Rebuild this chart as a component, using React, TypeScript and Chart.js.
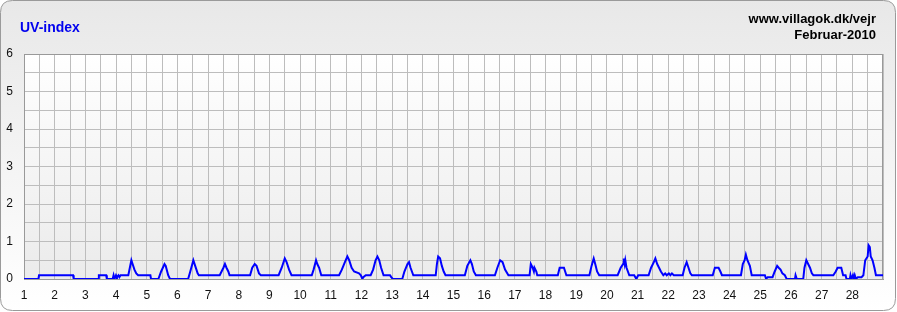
import React, { useEffect, useRef } from "react";
import { Chart, registerables } from "chart.js";

Chart.register(...registerables);

const chartTitle = "UV-index";
const siteText = "www.villagok.dk/vejr";
const periodText = "Februar-2010";

const dayTicks = [1,2,3,4,5,6,7,8,9,10,11,12,13,14,15,16,17,18,19,20,21,22,23,24,25,26,27,28];
const uvTicks = [0,1,2,3,4,5,6];

// day position (1 = start of 1 February) and UV value at each vertex of the line
const dayPos = [
  1.00, 1.47, 1.49, 2.60, 2.62, 3.42, 3.44, 3.68, 3.70, 3.89, 3.92, 3.95, 4.00, 4.03, 4.08, 4.11, 4.15,
  4.40, 4.45, 4.50, 4.54, 4.60, 4.66, 4.72, 5.12, 5.14, 5.38, 5.47, 5.58, 5.62, 5.70, 5.76,
  6.35, 6.42, 6.52, 6.58, 6.66, 6.70, 7.38, 7.44, 7.50, 7.55, 7.60, 7.66, 7.70,
  8.37, 8.44, 8.52, 8.58, 8.66, 8.72, 9.30, 9.40, 9.50, 9.56, 9.64, 9.72,
  10.38, 10.44, 10.52, 10.56, 10.62, 10.69, 11.27, 11.36, 11.46, 11.54, 11.60, 11.68, 11.76, 11.92, 11.98,
  12.03, 12.06, 12.14, 12.30, 12.38, 12.46, 12.52, 12.58, 12.64, 12.72, 12.93, 12.97, 13.02,
  13.33, 13.40, 13.50, 13.55, 13.60, 13.69, 14.42, 14.46, 14.50, 14.56, 14.62, 14.68, 14.74,
  15.37, 15.45, 15.55, 15.60, 15.66, 15.73, 16.35, 16.43, 16.52, 16.60, 16.68, 16.79,
  17.48, 17.52, 17.58, 17.62, 17.64, 17.70, 17.73, 18.40, 18.46, 18.60, 18.68,
  19.43, 19.50, 19.57, 19.62, 19.68, 19.75, 20.35, 20.45, 20.53, 20.55, 20.58, 20.60, 20.64, 20.73,
  20.89, 20.96, 21.02, 21.36, 21.44, 21.53, 21.58, 21.64, 21.70, 21.76, 21.84, 21.90, 21.95, 22.02,
  22.07, 22.12, 22.18, 22.47, 22.53, 22.60, 22.66, 22.72, 22.77, 23.45, 23.52, 23.64, 23.70, 23.75,
  24.37, 24.43, 24.49, 24.53, 24.58, 24.66, 24.72, 25.15, 25.19, 25.24, 25.40, 25.47, 25.55, 25.60,
  25.66, 25.72, 25.80, 25.86, 26.13, 26.15, 26.19, 26.40, 26.44, 26.50, 26.56, 26.62, 26.68, 26.73,
  27.38, 27.46, 27.52, 27.64, 27.70, 27.78, 27.81, 27.92, 27.94, 27.97, 28.02, 28.05, 28.08, 28.12,
  28.18, 28.30, 28.36, 28.42, 28.50, 28.53, 28.57, 28.60, 28.66, 28.72, 28.77, 29.00
];
const uvIndex = [
  0, 0, 0.1, 0.1, 0, 0, 0.1, 0.1, 0, 0, 0.1, 0, 0.1, 0.05, 0.1, 0.05, 0.1,
  0.1, 0.3, 0.5, 0.4, 0.25, 0.15, 0.1, 0.1, 0, 0, 0.2, 0.4, 0.35, 0.1, 0,
  0, 0.2, 0.5, 0.35, 0.15, 0.1, 0.1, 0.2, 0.3, 0.4, 0.3, 0.2, 0.1,
  0.1, 0.3, 0.4, 0.35, 0.15, 0.1, 0.1, 0.3, 0.55, 0.45, 0.25, 0.1,
  0.1, 0.25, 0.5, 0.4, 0.3, 0.1, 0.1, 0.25, 0.45, 0.6, 0.5, 0.3, 0.2, 0.15, 0.1,
  0, 0.05, 0.1, 0.1, 0.25, 0.5, 0.6, 0.5, 0.3, 0.1, 0.1, 0.05, 0,
  0, 0.2, 0.4, 0.45, 0.3, 0.1, 0.1, 0.4, 0.6, 0.55, 0.35, 0.2, 0.1,
  0.1, 0.35, 0.5, 0.4, 0.2, 0.1, 0.1, 0.3, 0.5, 0.45, 0.25, 0.1,
  0.1, 0.4, 0.3, 0.2, 0.3, 0.2, 0.1, 0.1, 0.3, 0.3, 0.1,
  0.1, 0.35, 0.55, 0.4, 0.2, 0.1, 0.1, 0.3, 0.4, 0.55, 0.4, 0.5, 0.3, 0.1,
  0.1, 0, 0.1, 0.1, 0.3, 0.45, 0.55, 0.4, 0.3, 0.2, 0.1, 0.15, 0.1, 0.15,
  0.1, 0.15, 0.1, 0.1, 0.3, 0.45, 0.3, 0.15, 0.1, 0.1, 0.3, 0.3, 0.2, 0.1,
  0.1, 0.4, 0.5, 0.65, 0.5, 0.35, 0.1, 0.1, 0, 0.05, 0.05, 0.2, 0.35, 0.3,
  0.25, 0.15, 0.1, 0, 0, 0.1, 0, 0, 0.3, 0.5, 0.4, 0.3, 0.15, 0.1,
  0.1, 0.2, 0.3, 0.3, 0.1, 0.1, 0, 0, 0.1, 0, 0.1, 0, 0.1, 0,
  0.05, 0.05, 0.1, 0.5, 0.6, 0.9, 0.85, 0.6, 0.5, 0.3, 0.1, 0.1
];

const FONT = "Arial, 'Liberation Sans', sans-serif";

const backgroundPlugin = {
  id: "uvBackground",
  beforeDraw(chart: any) {
    const { ctx, width, height, chartArea } = chart;
    ctx.save();
    const g = ctx.createLinearGradient(0, 0, 0, height);
    g.addColorStop(0, "#e8e8e8");
    g.addColorStop(1, "#ffffff");
    const x = 0.5, y = 0.5, w = width - 2, h = height - 2, r = 12;
    ctx.beginPath();
    ctx.moveTo(x + r, y);
    ctx.lineTo(x + w - r, y);
    ctx.quadraticCurveTo(x + w, y, x + w, y + r);
    ctx.lineTo(x + w, y + h - r);
    ctx.quadraticCurveTo(x + w, y + h, x + w - r, y + h);
    ctx.lineTo(x + r, y + h);
    ctx.quadraticCurveTo(x, y + h, x, y + h - r);
    ctx.lineTo(x, y + r);
    ctx.quadraticCurveTo(x, y, x + r, y);
    ctx.closePath();
    ctx.fillStyle = g;
    ctx.fill();
    ctx.strokeStyle = "#9a9a9a";
    ctx.lineWidth = 1;
    ctx.stroke();

    const pg = ctx.createLinearGradient(0, chartArea.top, 0, chartArea.bottom);
    pg.addColorStop(0, "#ffffff");
    pg.addColorStop(1, "#ebebeb");
    ctx.fillStyle = pg;
    ctx.fillRect(chartArea.left, chartArea.top, chartArea.right - chartArea.left, chartArea.bottom - chartArea.top);

    ctx.fillStyle = "#0000ee";
    ctx.font = "bold 14px " + FONT;
    ctx.textAlign = "left";
    ctx.textBaseline = "alphabetic";
    ctx.fillText(chartTitle, 20, 32);

    ctx.fillStyle = "#000000";
    ctx.font = "bold 13px " + FONT;
    ctx.textAlign = "right";
    ctx.fillText(siteText, 876, 23);
    ctx.fillText(periodText, 876, 39);
    ctx.restore();
  },
  beforeDatasetsDraw(chart: any) {
    const { ctx, chartArea } = chart;
    ctx.save();
    ctx.strokeStyle = "#999999";
    ctx.lineWidth = 1;
    ctx.strokeRect(
      Math.round(chartArea.left) + 0.5,
      Math.round(chartArea.top) + 0.5,
      Math.round(chartArea.right - chartArea.left) - 1,
      Math.round(chartArea.bottom - chartArea.top)
    );
    ctx.restore();
  },
};

export default function App() {
  const ref = useRef<HTMLCanvasElement | null>(null);

  useEffect(() => {
    if (!ref.current) return;
    const points = dayPos.map((d, i) => ({ x: d, y: uvIndex[i] }));
    const chart = new Chart(ref.current, {
      type: "line",
      data: {
        datasets: [
          {
            label: chartTitle,
            data: points,
            borderColor: "#0000ff",
            borderWidth: 2,
            pointRadius: 0,
            tension: 0,
            fill: false,
          },
        ],
      },
      options: {
        responsive: false,
        animation: false,
        devicePixelRatio: 1,
        layout: { padding: { left: 0, top: 54, right: 14, bottom: 0 } },
        plugins: { legend: { display: false }, tooltip: { enabled: false }, title: { display: false } },
        scales: {
          x: {
            type: "linear",
            min: 1,
            max: 29,
            afterFit: (s: any) => { s.height = 33; },
            grid: { color: "#bdbdbd", lineWidth: 1, drawTicks: false },
            border: { color: "#999999" },
            ticks: {
              stepSize: 0.5,
              autoSkip: false,
              maxRotation: 0,
              padding: 9,
              color: "#111111",
              font: { family: FONT, size: 12 },
              callback: (v: any) => (dayTicks.includes(Number(v)) ? String(v) : ""),
            },
          },
          y: {
            type: "linear",
            min: 0,
            max: 6,
            afterFit: (s: any) => { s.width = 24; },
            grid: { color: "#bdbdbd", lineWidth: 1, drawTicks: false },
            border: { color: "#999999" },
            ticks: {
              stepSize: 0.5,
              autoSkip: false,
              padding: 11,
              color: "#111111",
              font: { family: FONT, size: 12 },
              callback: (v: any) => (uvTicks.includes(Number(v)) ? String(v) : ""),
            },
          },
        },
      },
      plugins: [backgroundPlugin],
    });
    return () => chart.destroy();
  }, []);

  return (
    <div style={{ position: "absolute", left: 0, top: 0, width: 897, height: 312 }}>
      <canvas ref={ref} width={897} height={312} style={{ width: 897, height: 312 }} />
    </div>
  );
}
